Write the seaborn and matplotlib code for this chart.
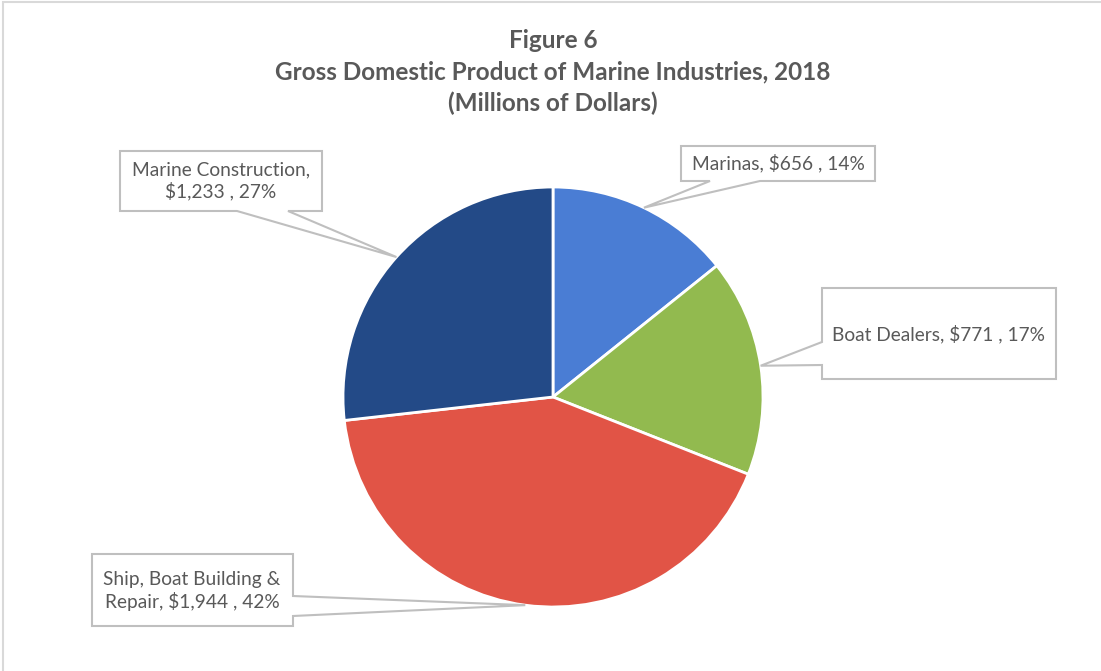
import matplotlib
matplotlib.use("Agg")
import matplotlib.pyplot as plt
from matplotlib.patches import Polygon, Rectangle
import numpy as np
import seaborn as sns

# Gross domestic product of marine industries, 2018 (millions of dollars)
industries = ["Marinas", "Boat Dealers", "Ship, Boat Building &\nRepair", "Marine Construction,\n"]
gdp_values = [656, 771, 1944, 1233]
slice_colors = ["#4A7DD4", "#92BA4F", "#E15446", "#234A87"]

title_lines = ["Figure 6",
               "Gross Domestic Product of Marine Industries, 2018",
               "(Millions of Dollars)"]

sns.set_theme(style="white")
plt.rcParams["font.family"] = ["Lato", "DejaVu Sans"]

W, H = 1101, 671
fig = plt.figure(figsize=(W / 100, H / 100), dpi=100)
ax = fig.add_axes([0, 0, 1, 1])
ax.set_xlim(0, W)
ax.set_ylim(0, H)
ax.axis("off")


def py(y):
    """Convert a top-down pixel row into the axes' bottom-up coordinate."""
    return H - y


text_gray = "#595959"
box_gray = "#BFBFBF"

# Outer chart-area frame
ax.add_patch(Rectangle((3, py(H + 5)), W + 10, H + 3, fill=False,
                       edgecolor="#D9D9D9", lw=1.5, zorder=0))

# Pie
cx, cy, r = 553, py(397), 210
palette = sns.color_palette(slice_colors)
wedges, _ = ax.pie(gdp_values, colors=palette, startangle=90, counterclock=False,
                   center=(cx, cy), radius=r, frame=True,
                   wedgeprops=dict(edgecolor="white", linewidth=2))
ax.set_xlim(0, W)
ax.set_ylim(0, H)
ax.set_aspect("equal")

total = sum(gdp_values)
labels = []
for name, v in zip(industries, gdp_values):
    pct = f"{round(100 * v / total)}%"
    if name.endswith("\n"):
        labels.append(f"{name}${v:,} , {pct}")
    else:
        labels.append(f"{name}, ${v:,} , {pct}")

# Callout tips at each wedge's mid-angle on the rim
tips = []
for w in wedges:
    mid = np.deg2rad((w.theta1 + w.theta2) / 2)
    tips.append((cx + r * np.cos(mid), cy + r * np.sin(mid)))

# Callout boxes: (left, top, right, bottom) in pixel rows, pointer side and base span
callouts = [
    dict(box=(681, 146, 875, 181), side="bottom", base=(710, 760),
         text_xy=(778, 163), ha="center"),
    dict(box=(822, 288, 1056, 379), side="left", base=(342, 365),
         text_xy=(832, 334), ha="left"),
    dict(box=(92, 554, 293, 626), side="right", base=(596, 616),
         text_xy=(192, 591), ha="center"),
    dict(box=(120, 151, 322, 211), side="bottom", base=(237, 288),
         text_xy=(221, 181), ha="center"),
]

for c, tip, label in zip(callouts, tips, labels):
    l, t, rr, b = c["box"]
    b0, b1 = c["base"]
    if c["side"] == "bottom":
        pix = [(l, t), (rr, t), (rr, b), (b1, b), None, (b0, b), (l, b)]
    elif c["side"] == "left":
        pix = [(l, t), (rr, t), (rr, b), (l, b), (l, b1), None, (l, b0)]
    else:
        pix = [(l, t), (rr, t), (rr, b0), None, (rr, b1), (rr, b), (l, b)]
    pts = [tip if p is None else (p[0], py(p[1])) for p in pix]
    ax.add_patch(Polygon(pts, closed=True, facecolor="white", edgecolor=box_gray,
                         lw=1.5, zorder=5))
    tx, ty = c["text_xy"]
    ax.text(tx, py(ty), label, ha=c["ha"], va="center", fontsize=13.8,
            color=text_gray, linespacing=1.2, zorder=6)

# Title
for i, line in enumerate(title_lines):
    ax.text(553, py(40 + 31.5 * i), line, ha="center", va="center",
            fontsize=17.5, fontweight="bold", color=text_gray)

fig.savefig("out.png", dpi=100, facecolor="white")
